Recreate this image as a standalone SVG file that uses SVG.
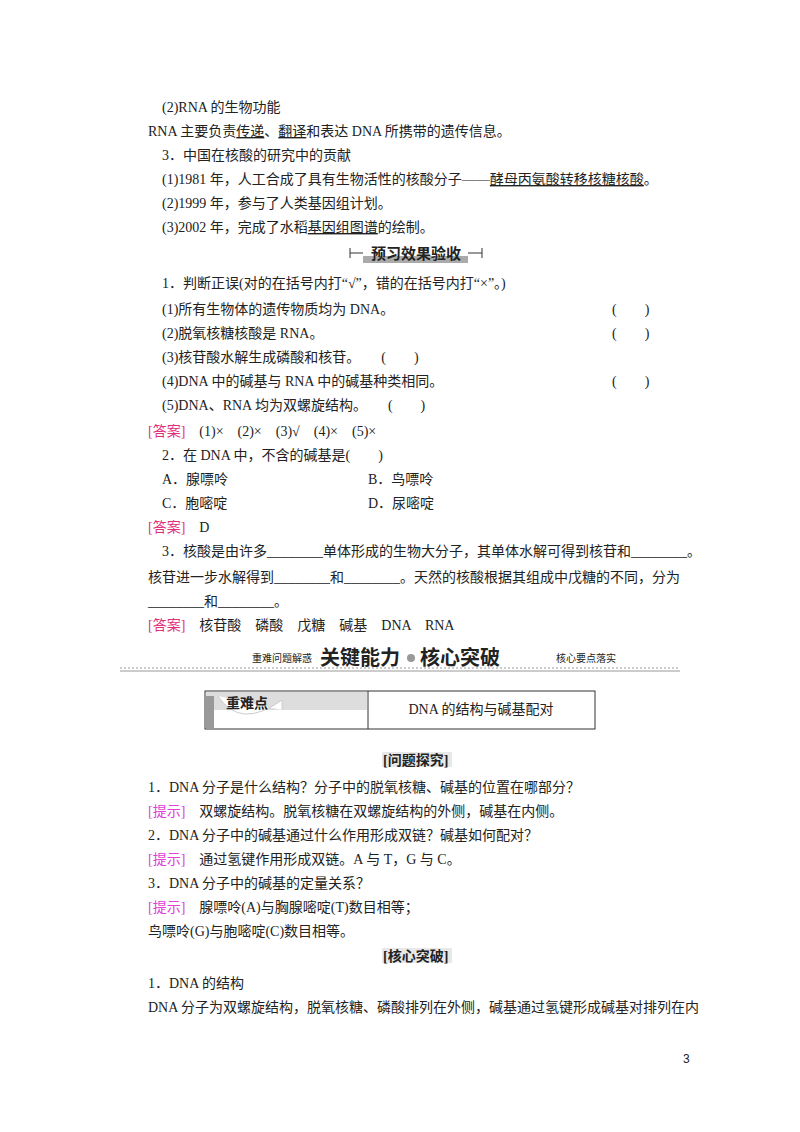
<svg xmlns="http://www.w3.org/2000/svg" width="800" height="1132" viewBox="0 0 800 1132">
<style>
text{font-family:"Liberation Serif","Noto Sans CJK SC",serif;font-size:14px;fill:#222}
.u{text-decoration:underline}
.ans{fill:#e0307a}
.tip{fill:#e040d8}
.b{font-weight:bold}
.bn{font-family:"Noto Sans CJK SC",sans-serif;font-weight:bold;font-size:15px}
</style>
<rect width="800" height="1132" fill="#fff"/>
<g id="text">
<text x="162" y="112">(2)RNA 的生物功能</text>
<text x="148" y="136">RNA 主要负责<tspan class="u">传递</tspan>、<tspan class="u">翻译</tspan>和表达 DNA 所携带的遗传信息。</text>
<text x="162" y="160">3．中国在核酸的研究中的贡献</text>
<text x="162" y="184">(1)1981 年，人工合成了具有生物活性的核酸分子——<tspan class="u">酵母丙氨酸转移核糖核酸</tspan>。</text>
<text x="162" y="208">(2)1999 年，参与了人类基因组计划。</text>
<text x="162" y="232">(3)2002 年，完成了水稻<tspan class="u">基因组图谱</tspan>的绘制。</text>
</g>
<g id="banner1">
<rect x="363" y="256" width="105" height="7" fill="#aaa"/>
<line x1="350" y1="253" x2="363" y2="253" stroke="#333"/>
<line x1="350" y1="248" x2="350" y2="258" stroke="#333"/>
<line x1="468" y1="253" x2="482" y2="253" stroke="#333"/>
<line x1="482" y1="248" x2="482" y2="258" stroke="#333"/>
<text class="bn" x="416" y="259" text-anchor="middle">预习效果验收</text>
</g>
<g id="quiz">
<text x="162" y="288">1．判断正误(对的在括号内打“√”，错的在括号内打“×”。)</text>
<text x="162" y="314">(1)所有生物体的遗传物质均为 DNA。</text><text x="612" y="314">(　　)</text>
<text x="162" y="338">(2)脱氧核糖核酸是 RNA。</text><text x="612" y="338">(　　)</text>
<text x="162" y="362">(3)核苷酸水解生成磷酸和核苷。　　(　　)</text>
<text x="162" y="386">(4)DNA 中的碱基与 RNA 中的碱基种类相同。</text><text x="612" y="386">(　　)</text>
<text x="162" y="410">(5)DNA、RNA 均为双螺旋结构。　　(　　)</text>
<text x="148" y="436"><tspan class="ans">[答案]</tspan>　(1)×　(2)×　(3)√　(4)×　(5)×</text>
<text x="162" y="460">2．在 DNA 中，不含的碱基是(　　)</text>
<text x="162" y="484">A．腺嘌呤</text><text x="368" y="484">B．鸟嘌呤</text>
<text x="162" y="508">C．胞嘧啶</text><text x="368" y="508">D．尿嘧啶</text>
<text x="148" y="532"><tspan class="ans">[答案]</tspan>　D</text>
<text x="162" y="556">3．核酸是由许多________单体形成的生物大分子，其单体水解可得到核苷和________。</text>
<text x="148" y="582">核苷进一步水解得到________和________。天然的核酸根据其组成中戊糖的不同，分为</text>
<text x="148" y="606">________和________。</text>
<text x="148" y="630"><tspan class="ans">[答案]</tspan>　核苷酸　磷酸　戊糖　碱基　DNA　RNA</text>
</g>
<g id="banner2">
<line x1="120" y1="668" x2="680" y2="668" stroke="#999" stroke-dasharray="2,2"/>
<line x1="120" y1="671" x2="680" y2="671" stroke="#ccc" stroke-width="2"/>
<text x="252" y="662" style="font-size:10px">重难问题解惑</text>
<text x="320" y="665" class="bn" style="font-size:20px">关键能力</text>
<circle cx="411" cy="658" r="4" fill="#999"/>
<text x="420" y="665" class="bn" style="font-size:20px">核心突破</text>
<text x="556" y="662" style="font-size:10px">核心要点落实</text>
</g>
<g id="table">
<rect x="205" y="691" width="390" height="38" fill="none" stroke="#333"/>
<line x1="368" y1="691" x2="368" y2="729" stroke="#333"/>
<rect x="206" y="692" width="161" height="18" fill="#ddd"/>
<path d="M206 696 L214 696 L214 728 L206 728 Z" fill="#999"/>
<path d="M218 696 Q240 730 282 700 L282 710" fill="#fff" stroke="#ccc"/>
<text x="226" y="708" class="b">重难点</text>
<text x="481" y="714" text-anchor="middle">DNA 的结构与碱基配对</text>
</g>
<g id="explore">
<rect x="382" y="752" width="70" height="15" fill="#e8e8e8"/>
<text x="383" y="765" class="b">[问题探究]</text>
<text x="148" y="792">1．DNA 分子是什么结构？分子中的脱氧核糖、碱基的位置在哪部分？</text>
<text x="148" y="816"><tspan class="tip">[提示]</tspan>　双螺旋结构。脱氧核糖在双螺旋结构的外侧，碱基在内侧。</text>
<text x="148" y="840">2．DNA 分子中的碱基通过什么作用形成双链？碱基如何配对？</text>
<text x="148" y="864"><tspan class="tip">[提示]</tspan>　通过氢键作用形成双链。A 与 T，G 与 C。</text>
<text x="148" y="888">3．DNA 分子中的碱基的定量关系？</text>
<text x="148" y="912"><tspan class="tip">[提示]</tspan>　腺嘌呤(A)与胸腺嘧啶(T)数目相等；</text>
<text x="148" y="936">鸟嘌呤(G)与胞嘧啶(C)数目相等。</text>
<rect x="382" y="948" width="70" height="15" fill="#e8e8e8"/>
<text x="383" y="961" class="b">[核心突破]</text>
<text x="148" y="988">1．DNA 的结构</text>
<text x="148" y="1012">DNA 分子为双螺旋结构，脱氧核糖、磷酸排列在外侧，碱基通过氢键形成碱基对排列在内</text>
<text x="683" y="1063" style="font-family:'Liberation Sans',sans-serif;font-size:12px">3</text>
</g>
</svg>
